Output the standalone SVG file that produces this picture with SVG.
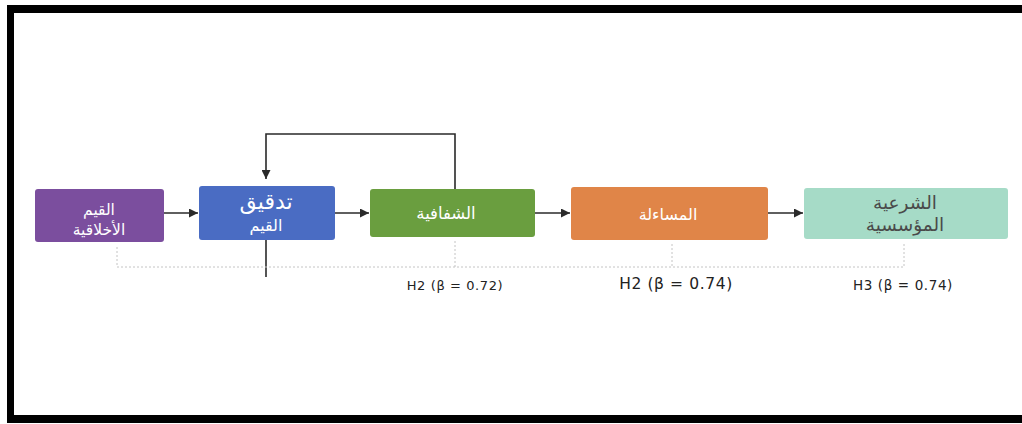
<svg xmlns="http://www.w3.org/2000/svg" width="1022" height="424" viewBox="0 0 1022 424">
<style>
.ar{font-family:"DejaVu Sans","Noto Sans",sans-serif;fill:#ffffff;text-anchor:middle}
.lbl{font-family:"DejaVu Sans","Liberation Sans",sans-serif;fill:#222;text-anchor:middle;letter-spacing:0.6px}
.con{stroke:#2a2a2a;stroke-width:1.6;fill:none}
.dot{stroke:#c4c4c4;stroke-width:1;stroke-dasharray:2 2;fill:none}
</style>
<defs>
<marker id="ah" viewBox="0 0 10 10" refX="10" refY="5" markerWidth="10" markerHeight="9" markerUnits="userSpaceOnUse" orient="auto">
<path d="M0,0 L10,5 L0,10 z" fill="#2a2a2a"/>
</marker>
</defs>
<rect width="1022" height="424" fill="#ffffff"/>
<g id="frame" fill="#000">
<rect x="7" y="5" width="1015" height="8"/>
<rect x="7" y="5" width="7" height="418"/>
<rect x="7" y="415" width="1015" height="8"/>
</g>
<g id="connectors">
<line class="con" x1="164" y1="213" x2="198" y2="213" marker-end="url(#ah)"/>
<line class="con" x1="335" y1="213" x2="369" y2="213" marker-end="url(#ah)"/>
<line class="con" x1="535" y1="213" x2="570" y2="213" marker-end="url(#ah)"/>
<line class="con" x1="768" y1="213" x2="803" y2="213" marker-end="url(#ah)"/>
<polyline class="con" points="455,189 455,134 266,134 266,179" marker-end="url(#ah)"/>
<line class="con" x1="266" y1="240" x2="266" y2="277"/>
<polyline class="dot" points="117,247 117,267 904,267 904,244"/>
<line class="dot" x1="455" y1="241" x2="455" y2="267"/>
<line class="dot" x1="672" y1="244" x2="672" y2="267"/>
</g>
<g id="n1">
<rect x="35" y="189" width="129" height="53" rx="3" fill="#7b4e9e"/>
<text class="ar" x="99" y="215" font-size="15.5">القيم</text>
<text class="ar" x="99" y="235" font-size="15.5">الأخلاقية</text>
</g>
<g id="n2">
<rect x="199" y="186" width="136" height="54" rx="3" fill="#4a6cc3"/>
<text class="ar" x="266" y="209" font-size="22">تدقيق</text>
<text class="ar" x="266" y="231" font-size="16">القيم</text>
</g>
<g id="n3">
<rect x="370" y="189" width="165" height="48" rx="3" fill="#6a9e3f"/>
<text class="ar" x="446" y="219" font-size="16.5">الشفافية</text>
</g>
<g id="n4">
<rect x="571" y="187" width="197" height="53" rx="3" fill="#e08548"/>
<text class="ar" x="668" y="220" font-size="16">المساءلة</text>
</g>
<g id="n5">
<rect x="804" y="188" width="204" height="51" rx="3" fill="#a6dbc7"/>
<text class="ar" x="905" y="209" font-size="18.5" style="fill:#4a4a4a">الشرعية</text>
<text class="ar" x="905" y="231" font-size="18.5" style="fill:#4a4a4a">المؤسسية</text>
</g>
<g id="labels">
<text class="lbl" x="455" y="290" font-size="13">H2 (β = 0.72)</text>
<text class="lbl" x="676" y="289" font-size="15.5">H2 (β = 0.74)</text>
<text class="lbl" x="903" y="290" font-size="13.5">H3 (β = 0.74)</text>
</g>
</svg>
